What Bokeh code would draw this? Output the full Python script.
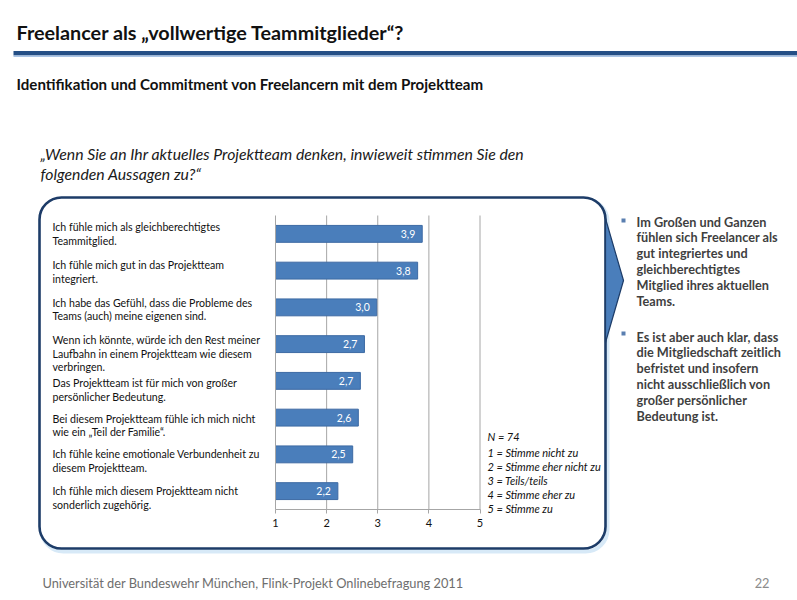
from bokeh.plotting import figure
from bokeh.models import Range1d, LinearAxis, FixedTicker, BoxAnnotation, ColumnDataSource
from bokeh.core.properties import value
from bokeh.embed import file_html
from bokeh.resources import INLINE

# ---------------- data ----------------
title_text = "Freelancer als  \u201evollwertige Teammitglieder\u201c?"
subtitle_text = "Identifikation und Commitment von Freelancern mit dem Projektteam"
question_lines = [
    "\u201eWenn Sie an Ihr aktuelles Projektteam denken, inwieweit stimmen Sie den",
    "folgenden Aussagen zu?\u201c",
]
statements = [
    "Ich f\u00fchle mich als gleichberechtigtes\nTeammitglied.",
    "Ich f\u00fchle mich gut in das Projektteam\nintegriert.",
    "Ich habe das Gef\u00fchl, dass die Probleme des\nTeams (auch) meine eigenen sind.",
    "Wenn ich k\u00f6nnte, w\u00fcrde ich den Rest meiner\nLaufbahn in einem Projektteam wie diesem\nverbringen.",
    "Das Projektteam ist f\u00fcr mich von gro\u00dfer\npers\u00f6nlicher Bedeutung.",
    "Bei diesem Projektteam f\u00fchle ich mich nicht\nwie ein \u201eTeil der Familie\u201c.",
    "Ich f\u00fchle keine emotionale Verbundenheit zu\ndiesem Projektteam.",
    "Ich f\u00fchle mich diesem Projektteam nicht\nsonderlich zugeh\u00f6rig.",
]
means = [3.87, 3.78, 2.98, 2.74, 2.66, 2.62, 2.51, 2.22]
scale_ticks = [1, 2, 3, 4, 5]
grid_ticks = [2, 3, 4, 5]
sample_note = "N = 74"
scale_legend = [
    "1 = Stimme nicht zu",
    "2 = Stimme eher nicht zu",
    "3 = Teils/teils",
    "4 = Stimme eher zu",
    "5 = Stimme zu",
]
findings = [
    "Im Gro\u00dfen und Ganzen\nf\u00fchlen sich Freelancer als\ngut integriertes und\ngleichberechtigtes\nMitglied ihres aktuellen\nTeams.",
    "Es ist aber auch klar, dass\ndie Mitgliedschaft zeitlich\nbefristet und insofern\nnicht ausschlie\u00dflich von\ngro\u00dfer pers\u00f6nlicher\nBedeutung ist.",
]
footer_text = "Universit\u00e4t der Bundeswehr M\u00fcnchen, Flink-Projekt Onlinebefragung  2011"
page_number = "22"

# ---------------- layout (canvas pixel coordinates) ----------------
W, H = 797, 600
FONT = "Lato"
n = len(statements)

p = figure(width=W, height=H, x_range=Range1d(0, W), y_range=Range1d(H, 0),
           x_axis_type=None, y_axis_type=None, toolbar_location=None,
           output_backend="svg", min_border=0, outline_line_color=None,
           background_fill_color="white", border_fill_color="white")

# chart scales placed inside the slide
X1_PX, X5_PX = 275.0, 479.5
ppu = (X5_PX - X1_PX) / 4.0
TOP_PX, BOT_PX = 215.0, 509.0
band = (BOT_PX - TOP_PX) / n
p.extra_x_ranges = {"cx": Range1d(1 + (0 - X1_PX) / ppu, 1 + (W - X1_PX) / ppu)}
p.extra_y_ranges = {"cy": Range1d((H - TOP_PX) / band - 0.5, (0 - TOP_PX) / band - 0.5)}

# header
p.text(x=[16], y=[31.5], text=[title_text], text_font=value(FONT), text_font_style="bold",
       text_font_size="19.8px", text_color="#111111", text_baseline="alphabetic")
p.quad(left=[13], right=[W], top=[50.5], bottom=[55], fill_color="#254f86", line_color=None)
p.quad(left=[13], right=[W], top=[55], bottom=[56.5], fill_color="#a9c4e6", line_color=None)
p.text(x=[16], y=[83.5], text=[subtitle_text], text_font=value(FONT), text_font_style="bold",
       text_font_size="15.1px", text_color="#111111", text_baseline="alphabetic")
p.text(x=[40, 40], y=[152.5, 172.5], text=question_lines, text_font=value(FONT),
       text_font_style="italic", text_font_size="15.8px", text_color="#1a1a1a",
       text_baseline="alphabetic")

# rounded frame + shadow
p.add_layout(BoxAnnotation(left=41, right=607, top=199, bottom=551, border_radius=22,
                           fill_alpha=0, line_color="#d7e9f7", line_alpha=1, line_width=4,
                           level="underlay"))
p.add_layout(BoxAnnotation(left=39, right=605, top=197, bottom=548, border_radius=22,
                           fill_color="white", fill_alpha=1, line_color="#1d3c68", line_alpha=1,
                           line_width=2.6, level="underlay"))
# arrow pointing to the findings
p.patch(x=[605, 623, 605], y=[218, 280, 342], fill_color="#4a7ebb", line_color="#1d3c68",
        line_width=1.2)

# chart
# statement texts sit slightly off their bars in the original (pixel nudges)
label_nudge = [-12.5, -11.7, -10.8, -10.0, -3.7, -4.9, -6.5, -5.7]
src = ColumnDataSource(dict(
    idx=list(range(n)),
    mean=means,
    label=statements,
    mean_label=[f"{m:.1f}".replace(".", ",") for m in means],
    nudge=label_nudge,
))
p.segment(x0="t", x1="t", y0=-0.5, y1=n - 0.5, source=ColumnDataSource(dict(t=grid_ticks)),
          x_range_name="cx", y_range_name="cy", line_color="#a6a6a6", line_width=1)
p.hbar(y="idx", left=1, right="mean", height=0.46, source=src, x_range_name="cx",
       y_range_name="cy", fill_color="#4a7ebb", line_color="#3d6aa4", line_width=1)
p.text(x="mean", y="idx", text="mean_label", source=src, x_range_name="cx", y_range_name="cy",
       text_align="right", text_baseline="middle", x_offset=-7, text_color="white",
       text_font=value(FONT), text_font_size="10.5px")
p.text(x=52, y="idx", text="label", source=src, y_range_name="cy", text_baseline="top",
       y_offset="nudge", text_font=value(FONT), text_font_size="10.6px", text_line_height=1.14,
       text_color="#111111")

xax = LinearAxis(x_range_name="cx", y_range_name="cy", fixed_location=n - 0.5, bounds=(1, 5),
                 ticker=FixedTicker(ticks=scale_ticks), axis_line_color="#a6a6a6",
                 major_tick_line_color="#a6a6a6", major_tick_out=4, major_tick_in=0,
                 minor_tick_line_color=None, major_label_standoff=5,
                 major_label_text_font=FONT, major_label_text_font_size="11px",
                 major_label_text_color="#111111")
p.add_layout(xax, "below")
yax = LinearAxis(x_range_name="cx", y_range_name="cy", fixed_location=1, bounds=(-0.5, n - 0.5),
                 ticker=FixedTicker(ticks=[]), axis_line_color="#a6a6a6",
                 major_tick_line_color=None, minor_tick_line_color=None)
p.add_layout(yax, "left")

# legend of the scale
p.text(x=[487], y=[436], text=[sample_note], text_font=value(FONT), text_font_style="italic",
       text_font_size="11px", text_color="#111111", text_baseline="middle")
p.text(x=[487], y=[445], text=["\n".join(scale_legend)], text_font=value(FONT),
       text_font_style="italic", text_font_size="11px", text_line_height=1.08,
       text_color="#111111", text_baseline="top")

# findings
p.scatter(x=[623, 623], y=[220, 333], marker="square", size=4, fill_color="#5a7fb0",
          line_color=None)
p.text(x=[636, 636], y=[213, 328], text=findings, text_font=value(FONT),
       text_font_style="bold", text_font_size="12.7px", text_line_height=0.99,
       text_color="#3f3f3f", text_baseline="top")

# footer
p.text(x=[42], y=[582], text=[footer_text], text_font=value(FONT), text_font_size="12.8px",
       text_color="#6e6e6e", text_baseline="alphabetic")
p.text(x=[769], y=[582], text=[page_number], text_font=value(FONT), text_font_size="12.8px",
       text_color="#8c8c8c", text_baseline="alphabetic", text_align="right")

open("out.html", "w").write(file_html(p, INLINE))
